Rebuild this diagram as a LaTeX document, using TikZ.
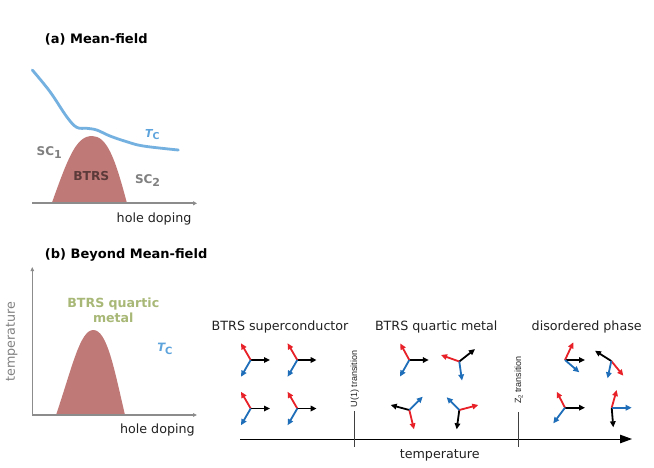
\documentclass[tikz,border=0pt]{standalone}
\usepackage{fontspec}
\setmainfont{DejaVu Sans}
\newfontfamily\arialf{Liberation Sans}
\usetikzlibrary{arrows.meta}
\definecolor{domec}{RGB}{191,122,120}
\definecolor{tcline}{RGB}{116,176,224}
\definecolor{tctext}{RGB}{93,163,220}
\definecolor{vred}{RGB}{232,32,40}
\definecolor{vblue}{RGB}{30,110,185}
\definecolor{graytxt}{RGB}{128,128,128}
\definecolor{axgray}{RGB}{140,140,140}
\definecolor{darkbtrs}{RGB}{92,58,58}
\definecolor{olivec}{RGB}{168,184,118}
\definecolor{txtdark}{RGB}{34,34,34}
\newcommand{\trio}[4]{%
  \draw[vecb] (#1) -- ++(#2);
  \draw[vecr] (#1) -- ++(#3);
  \draw[vecu] (#1) -- ++(#4);
}
\begin{document}
\begin{tikzpicture}[x=1pt,y=-1pt,
  every node/.style={inner sep=0pt, outer sep=0pt},
  title/.style={font=\fontsize{13}{15}\selectfont\bfseries, text=black},
  lab/.style={font=\fontsize{12.7}{15}\selectfont, text=txtdark},
  glab/.style={font=\fontsize{12}{14}\selectfont\bfseries, text=graytxt},
  trlab/.style={font=\fontsize{9}{10}\selectfont\arialf, text=txtdark, rotate=90},
  vec/.style={line width=1.8pt, -{Triangle[length=6pt,width=5.5pt]}},
  vecb/.style={vec, black},
  vecr/.style={vec, vred},
  vecu/.style={vec, vblue},
  axa/.style={axgray, line width=1.8pt, -{Triangle[length=4pt,width=4pt]}},
  axb/.style={axgray, line width=1.2pt, -{Triangle[length=4pt,width=3.5pt]}},
  axm/.style={black, line width=1pt, -{Triangle[length=12pt,width=8.5pt]}},
  trline/.style={black!75, line width=1pt},
  dome/.style={fill=domec, draw=none}
]
\fill[white] (0,0) rectangle (654,467);
\useasboundingbox (0,0) rectangle (654,467);

% ---------- panel (a)
\node[title, anchor=west] (ta) at (45,39) {(a) Mean-field};
\fill[dome] (51.7,203.3) .. controls (68,158) and (76,136) .. (92,136)
  .. controls (107,136) and (115,158) .. (127,203.3) -- cycle;
\draw[tcline, line width=2.8pt, line cap=round] plot[smooth, tension=0.6] coordinates
  {(32.3,70) (50,91.7) (66.7,116.7) (76.7,127.3) (86.7,128.3) (96.7,130) (110,136) (126.7,141.7) (143.3,146) (178.3,150)};
\coordinate (a0) at (32.3,203.3);
\coordinate (a1) at (197,203.3);
\draw[axa] (a0) -- (a1);
\node[glab, anchor=base west] (sc1) at (36.7,155.7) {SC\lower3pt\hbox{\fontsize{11}{12}\selectfont 1}};
\node[glab, anchor=base west] (sc2) at (135,183.3) {SC\lower3pt\hbox{\fontsize{11}{12}\selectfont 2}};
\node[font=\fontsize{12.3}{14}\selectfont\bfseries, text=darkbtrs] (btrsa) at (91.3,176) {BTRS};
\node[anchor=base west, text=tctext] (tca) at (145,137.3)
  {\fontsize{11}{12}\selectfont\bfseries\itshape T\lower2.5pt\hbox{\fontsize{9.5}{10}\selectfont\upshape C}};
\node[lab, anchor=base west] (hda) at (116.7,222.3) {hole doping};

% ---------- panel (b)
\node[title, anchor=west] (tb) at (45,255) {(b) Beyond Mean-field};
\fill[dome] (56,415) .. controls (72,368) and (80,330) .. (93.3,330)
  .. controls (107,330) and (114,368) .. (125,415) -- cycle;
\coordinate (b0) at (32.3,415);
\coordinate (bx) at (197,415);
\coordinate (by) at (32.3,267);
\draw[axb] (b0) -- (bx);
\draw[axb] (b0) -- (by);
\node[lab, text=graytxt, rotate=90] (tempb) at (11.7,341.7) {temperature};
\node[font=\fontsize{12.6}{15}\selectfont\bfseries, text=olivec, anchor=base] (q1) at (113.3,307.7) {BTRS quartic};
\node[font=\fontsize{12.6}{15}\selectfont\bfseries, text=olivec, anchor=base] (q2) at (113.3,322.7) {metal};
\node[anchor=base west, text=tctext] (tcb) at (157.3,351.7)
  {\fontsize{11.5}{12}\selectfont\bfseries\itshape T\lower3pt\hbox{\fontsize{10}{11}\selectfont\upshape C}};
\node[lab, anchor=base west] (hdb) at (120,433.3) {hole doping};

% ---------- right part
\node[lab, anchor=base west] (l1) at (211.7,330.7) {BTRS superconductor};
\node[lab, anchor=base west] (l2) at (375,330.7) {BTRS quartic metal};
\node[lab, anchor=base west] (l3) at (531.7,330.7) {disordered phase};

\coordinate (m0) at (240,439);
\coordinate (m1) at (632,439);
\draw[axm] (m0) -- (m1);
\node[lab, anchor=base] (tempm) at (439.7,458.3) {temperature};

\coordinate (u0) at (354.3,411);
\coordinate (u1) at (354.3,447);
\draw[trline] (u0) -- (u1);
\node[trlab] (ul) at (354.7,379) {U(1) transition};
\coordinate (z0) at (518.3,412);
\coordinate (z1) at (518.3,447);
\draw[trline] (z0) -- (z1);
\node[trlab] (zl) at (518.7,380) {Z\lower1.5pt\hbox{\fontsize{6}{7}\selectfont 2} transition};

% triads: superconductor
\coordinate (s1) at (250.7,360);
\coordinate (s2) at (297.3,360);
\coordinate (s3) at (250.7,408.5);
\coordinate (s4) at (297.3,408.5);
\trio{s1}{19.3,0}{-9.7,-16.7}{-9.7,16.7}
\trio{s2}{19.3,0}{-9.7,-16.7}{-9.7,16.7}
\trio{s3}{19.3,0}{-9.7,-16.7}{-9.7,16.7}
\trio{s4}{19.3,0}{-9.7,-16.7}{-9.7,16.7}

% triads: quartic metal
\coordinate (q1c) at (409.3,360);
\coordinate (q2c) at (459.3,361.5);
\coordinate (q3c) at (409.3,410);
\coordinate (q4c) at (459.3,410);
\trio{q1c}{19.5,0}{-9,-16.5}{-9.3,16.5}
\trio{q2c}{15.7,-12.4}{-18.3,-6.5}{2.7,19}
\trio{q3c}{-18.6,-5}{4.7,19.3}{13.4,-13.3}
\trio{q4c}{-2.6,19.3}{19,-5}{-12.6,-12.7}

% triads: disordered
\coordinate (d1) at (565,360);
\coordinate (d2) at (611.3,361);
\coordinate (d3) at (565,407.7);
\coordinate (d4) at (611.7,407.7);
\trio{d1}{20,0}{8.3,-17.7}{14.3,12.3}
\trio{d2}{-16.3,-10.3}{12,14.7}{-3.7,17.3}
\trio{d3}{20,0}{-8.3,-16}{-11.7,15.6}
\trio{d4}{1.6,19.6}{5,-17.7}{20,0}
\end{tikzpicture}
\end{document}
